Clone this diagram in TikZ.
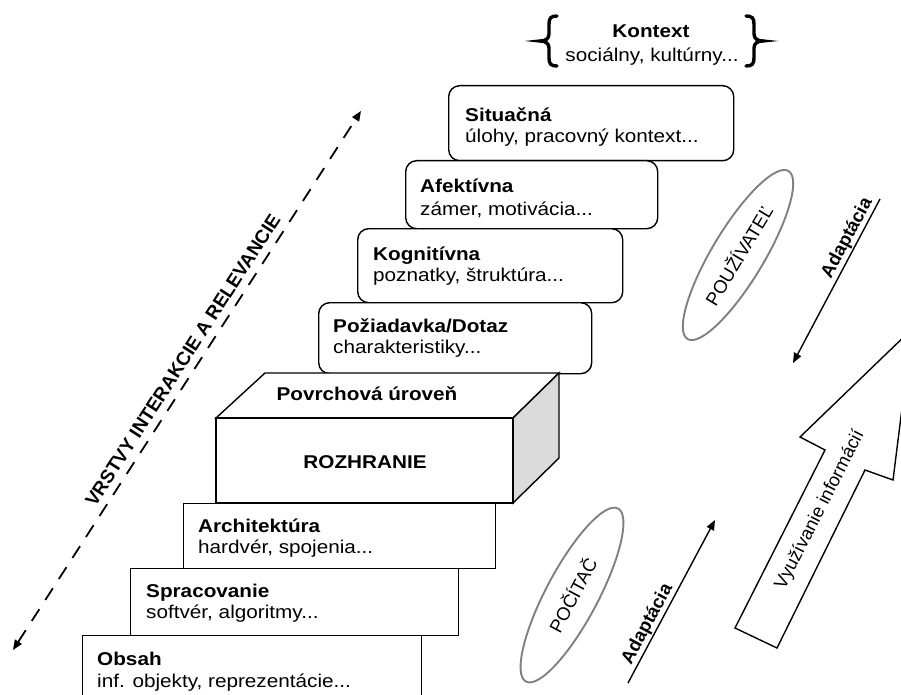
\documentclass[tikz,border=0pt]{standalone}
\usepackage{fontspec}
\setmainfont{Liberation Sans}[FakeStretch=1.12]
\newfontfamily\rotfont{Liberation Sans}
\usetikzlibrary{shapes.geometric,arrows.meta}

\begin{document}
\begin{tikzpicture}[x=1pt,y=-1pt,
  every node/.style={font=\fontsize{18.5}{22}\selectfont, inner sep=0pt},
  lay/.style={draw, line width=1.4pt, fill=white, anchor=north west},
  roundlay/.style={lay, rounded corners=11pt},
  ttl/.style={anchor=base west, font=\fontsize{18.5}{22}\selectfont\bfseries},
  dsc/.style={anchor=base west},
  rot/.style={font=\fontsize{18.5}{22}\selectfont\rotfont},
  rotb/.style={font=\fontsize{18.5}{22}\selectfont\rotfont\bfseries},
  actor/.style={ellipse, draw=black!50, line width=1.9pt, minimum width=196pt,
    minimum height=52pt, rot},
  adapt/.style={line width=1.4pt, -{Triangle[length=10pt,width=8pt]}},
  edge3d/.style={line width=1.4pt},
  bracepen/.style={line width=3.4pt, line cap=round},
]
\useasboundingbox (0,0) rectangle (901,695);
\clip (0,0) rectangle (901,695);

% upper (user side) layers, rounded
\node[roundlay, minimum width=285pt, minimum height=75pt] (sit) at (448,85) {};
\node[roundlay, minimum width=252pt, minimum height=68pt] (afe) at (405,160) {};
\node[roundlay, minimum width=265pt, minimum height=74pt] (kog) at (357,228) {};
\node[roundlay, minimum width=273pt, minimum height=71pt] (poz) at (318,302) {};

\node[ttl] (sitT) at (465,122) {Situačná};
\node[dsc] (sitD) at (465,143) {úlohy, pracovný kontext...};
\node[ttl] (afeT) at (420,193) {Afektívna};
\node[dsc] (afeD) at (420,215) {zámer, motivácia...};
\node[ttl] (kogT) at (373,260) {Kognitívna};
\node[dsc] (kogD) at (373,281) {poznatky, štruktúra...};
\node[ttl] (pozT) at (333,332) {Požiadavka/Dotaz};
\node[dsc] (pozD) at (333,353) {charakteristiky...};

% interface block
\coordinate (fA) at (216,418);
\coordinate (fB) at (513,418);
\coordinate (fC) at (513,503);
\coordinate (bA) at (265,373);
\coordinate (bB) at (559,373);
\coordinate (bC) at (559,458);
\draw[edge3d, fill=white] (fA) -- (bA) -- (bB) -- (fB) -- cycle;
\draw[edge3d, fill=black!14] (fB) -- (bB) -- (bC) -- (fC) -- cycle;
\draw[edge3d, fill=white] (fA) rectangle (fC);
\node[anchor=base, font=\fontsize{18.5}{22}\selectfont\bfseries] (surf) at (367,400) {Povrchová úroveň};
\node[anchor=base, font=\fontsize{18.5}{22}\selectfont\bfseries] (iface) at (365,468) {ROZHRANIE};

% lower (computer side) layers
\node[lay, minimum width=312pt, minimum height=65pt] (arch) at (183,503) {};
\node[lay, minimum width=328pt, minimum height=67pt] (spr) at (130,568) {};
\node[lay, minimum width=339pt, minimum height=80pt] (obs) at (82,635) {};

\node[ttl] (archT) at (198,532) {Architektúra};
\node[dsc] (archD) at (198,553) {hardvér, spojenia...};
\node[ttl] (sprT) at (146,597) {Spracovanie};
\node[dsc] (sprD) at (146,618) {softvér, algoritmy...};
\node[ttl] (obsT) at (97,665) {Obsah};
\node[dsc] (obsD) at (97,687) {inf. objekty, reprezentácie...};

% context with braces
\node[anchor=base, font=\fontsize{18.5}{22}\selectfont\bfseries] (ctxT) at (651,38) {Kontext};
\node[anchor=base] (ctxD) at (652,62) {sociálny, kultúrny...};
\draw[bracepen] (557,16) .. controls (551,16) and (549,18) .. (549,24) -- (549,34)
  .. controls (549,39) and (545,41) .. (540,41)
  .. controls (545,41) and (549,43) .. (549,48) -- (549,58)
  .. controls (549,64) and (551,66) .. (557,66);
\draw[bracepen] (746,16) .. controls (752,16) and (754,18) .. (754,24) -- (754,34)
  .. controls (754,39) and (758,41) .. (763,41)
  .. controls (758,41) and (754,43) .. (754,48) -- (754,58)
  .. controls (754,64) and (752,66) .. (746,66);

% layers axis
\coordinate (vb) at (13,650);
\coordinate (vt) at (361,111);
\draw[line width=1.8pt, dash pattern=on 14pt off 11pt,
  {Triangle[length=10pt,width=8pt]}-{Triangle[length=10pt,width=8pt]}]
  (vb) -- node[sloped, above=7pt, pos=0.523, rotb,
    font=\fontsize{19}{22}\selectfont\rotfont\bfseries] (vlabel)
  {VRSTVY INTERAKCIE A RELEVANCIE} (vt);

% actors
\node[actor, rotate=59] (user) at (738,255) {POUŽÍVATEĽ};
\node[actor, rotate=62] (comp) at (572,595) {POČÍTAČ};

% adaptation arrows
\coordinate (au1) at (880,199);
\coordinate (ad1) at (793,363);
\draw[adapt] (au1) -- node[sloped, above=1pt, pos=0.27, rotb] (adU) {Adaptácia} (ad1);
\coordinate (al2) at (628,683);
\coordinate (au2) at (715,520);
\draw[adapt] (al2) -- node[sloped, above=1pt, pos=0.33, rotb] (adL) {Adaptácia} (au2);

% information use arrow
\coordinate (tl) at (735,628);
\coordinate (tr) at (777,648);
\coordinate (sr) at (865,470);
\coordinate (br) at (893,480);
\coordinate (tip) at (912,329);
\coordinate (bl) at (800,437);
\coordinate (sl) at (825,450);
\draw[line width=1.4pt, fill=white] (tl) -- (tr) -- (sr) -- (br) -- (tip) -- (bl) -- (sl) -- cycle;
\node[rot, rotate=63] (use) at (820,510) {Využívanie informácií};
\end{tikzpicture}
\end{document}
